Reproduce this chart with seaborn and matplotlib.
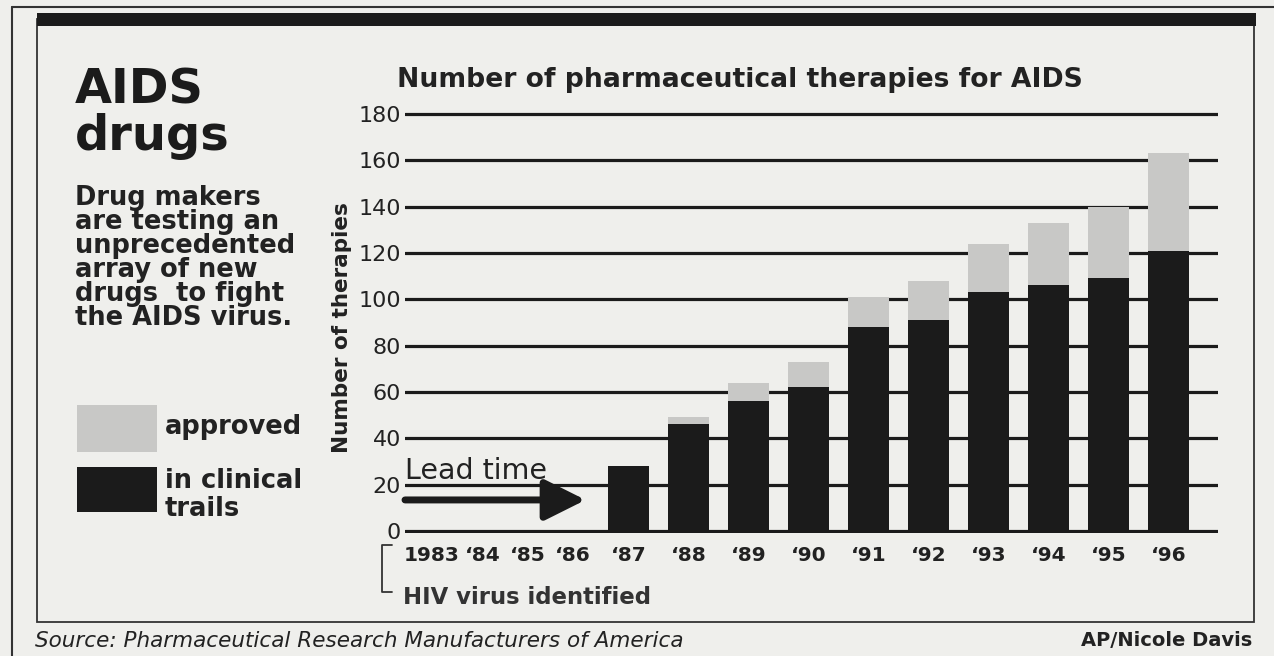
import numpy as np
import pandas as pd
import seaborn as sns
import matplotlib.pyplot as plt
from matplotlib.lines import Line2D
from matplotlib.patches import Rectangle

# values (1987-1996)
years = ['1987', '1988', '1989', '1990', '1991', '1992', '1993', '1994', '1995', '1996']
in_clinical = [28, 46, 56, 62, 88, 91, 103, 106, 109, 121]
total = [28, 49, 64, 73, 101, 108, 124, 133, 140, 163]
tick_labels = ['1983', '‘84', '‘85', '‘86', '‘87', '‘88', '‘89', '‘90',
               '‘91', '‘92', '‘93', '‘94', '‘95', '‘96']
y_ticks = [0, 20, 40, 60, 80, 100, 120, 140, 160, 180]
body_lines = ['Drug makers', 'are testing an', 'unprecedented',
              'array of new', 'drugs  to fight', 'the AIDS virus.']

df = pd.DataFrame({'year': years, 'clinical': in_clinical, 'total': total})

W, H = 1274, 656
sns.set_theme(style='white')
plt.rcParams['font.family'] = ['DejaVu Sans']

paper = '#efefec'
ink = '#1b1b1b'
light = '#c8c8c6'


def fx(x):
    return x / W


def fy(y):
    return 1 - y / H


fig = plt.figure(figsize=(12.74, 6.56), dpi=100, facecolor=paper)
ax = fig.add_axes([fx(405), fy(533.3), fx(1218) - fx(405), fy(111.7) - fy(533.3)])
ax.set_facecolor(paper)

sns.barplot(data=df, x='year', y='total', color=light, width=0.68, linewidth=0,
            edgecolor='none', saturation=1, errorbar=None, ax=ax, zorder=2)
sns.barplot(data=df, x='year', y='clinical', color=ink, width=0.68, linewidth=0,
            edgecolor='none', saturation=1, errorbar=None, ax=ax, zorder=3)

ax.set_xlim(-3.73, 9.82)
ax.set_ylim(-1, 181)
ax.set_yticks(y_ticks)
ax.yaxis.grid(True, color=ink, lw=2.3)
ax.xaxis.grid(False)
ax.set_axisbelow(True)
for s in ax.spines.values():
    s.set_visible(False)
ax.tick_params(length=0)
ax.tick_params(axis='y', labelsize=16, pad=3, labelcolor='#222')
tick_pos = [-3.29, -2.44, -1.68, -0.93] + list(range(len(years)))
ax.set_xticks(tick_pos, tick_labels, fontsize=14.5, fontweight='bold', color='#222')
ax.tick_params(axis='x', pad=9)
ax.set_xlabel('')
ax.set_ylabel('Number of therapies', fontsize=15.5, fontweight='bold', color='#222')
ax.yaxis.set_label_coords(-0.065, 0.487)

# lead time arrow
ax.text(-3.73, 22.6, 'Lead time', fontsize=20.5, color='#222', va='baseline', ha='left')
ax.annotate('', xy=(-0.72, 13.4), xytext=(-3.73, 13.4),
            arrowprops=dict(arrowstyle='-|>,head_width=0.5,head_length=1.0',
                            lw=5, color=ink, mutation_scale=25,
                            shrinkA=0, shrinkB=0))

# bracket + note under the x axis
fig.add_artist(Line2D([fx(392), fx(382), fx(382), fx(392)],
                      [fy(545), fy(545), fy(592), fy(592)], color='#333', lw=1.3))
fig.text(fx(403), fy(597), 'HIV virus identified', fontsize=16.4,
         fontweight='bold', color='#333', va='center')

# headings
fig.text(fx(75), fy(103), 'AIDS', fontsize=34.5, fontweight='bold', color=ink, va='baseline')
fig.text(fx(75), fy(150), 'drugs', fontsize=34.5, fontweight='bold', color=ink, va='baseline')
fig.text(fx(397), fy(80), 'Number of pharmaceutical therapies for AIDS',
         fontsize=19.2, fontweight='bold', color='#222', va='center')
fig.text(fx(75), fy(185), '\n'.join(body_lines), fontsize=18.5, fontweight='bold',
         color='#222', va='top', linespacing=0.9)

# legend
fig.add_artist(Rectangle((fx(77), fy(452)), fx(157) - fx(77), fy(405) - fy(452),
                         facecolor=light, edgecolor='none'))
fig.add_artist(Rectangle((fx(77), fy(512)), fx(157) - fx(77), fy(467) - fy(512),
                         facecolor=ink, edgecolor='none'))
fig.text(fx(165), fy(427), 'approved', fontsize=18.5, fontweight='bold', color='#222', va='center')
fig.text(fx(165), fy(468), 'in clinical\ntrails', fontsize=18.5, fontweight='bold',
         color='#222', va='top', linespacing=1.1)

# frame
fig.add_artist(Line2D([fx(12), fx(1274)], [fy(7), fy(7)], color='#333', lw=1.5))
fig.add_artist(Line2D([fx(12), fx(12)], [fy(7), fy(656)], color='#333', lw=1.5))
fig.add_artist(Rectangle((fx(37), fy(622)), fx(1254) - fx(37), fy(19) - fy(622),
                         facecolor='none', edgecolor='#333', lw=1.3))
fig.add_artist(Rectangle((fx(37), fy(26)), fx(1256) - fx(37), fy(13) - fy(26),
                         facecolor=ink, edgecolor='none'))

# footer
fig.text(fx(35), fy(641), 'Source: Pharmaceutical Research Manufacturers of America',
         fontsize=15.5, style='italic', color='#222', va='center')
fig.text(fx(1252), fy(641), 'AP/Nicole Davis', fontsize=14, fontweight='bold',
         color='#222', va='center', ha='right')

fig.savefig('out.png', dpi=100, facecolor=paper)
